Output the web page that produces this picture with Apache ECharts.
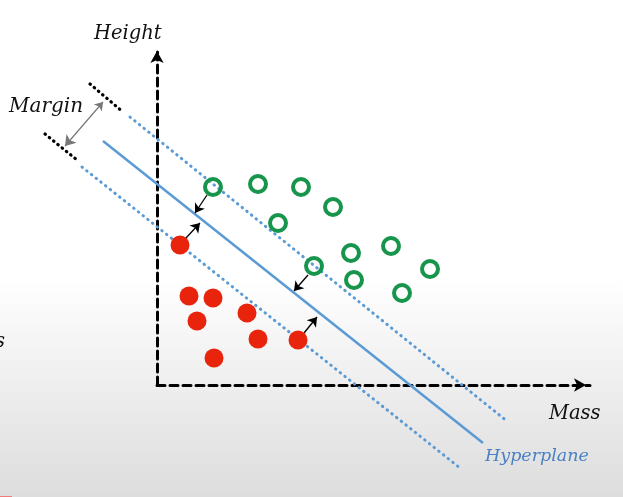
<!DOCTYPE html>
<html><head><meta charset="utf-8">
<script src="https://cdn.jsdelivr.net/npm/echarts@6/dist/echarts.min.js"></script>
<style>html,body{margin:0;padding:0;}#c{width:623px;height:497px;}</style>
</head><body><div id="c"></div>
<script>
// Data units: origin at the axes' corner, 1 unit ≈ 1 px
const greenPoints = [[56,198],[101,201],[144,198],[176,178],[121,162],[194,132],[234,139],[157,119],[197,105],[273,116],[245,92]];
const redPoints = [[23,140],[32,89],[56,87],[40,64],[90,72],[101,46],[141,45],[57,27]];
const hyperplane = [[-54,244],[326,-58]];
const marginUpper = [[-27,268],[351,-37]];
const marginLower = [[-75,218],[303,-83]];
const marginTicks = [[[-67,301],[-34,273]], [[-112,251],[-80,225]]];
const marginArrow = [[-54,283],[-92,239]];
const supportArrows = [[[50,190],[38,172]], [[28,146],[43,162]], [[151,110],[137,94]], [[147,52],[160,68]]];
const labels = {x:'Mass', y:'Height', margin:'Margin', plane:'Hyperplane', side:'s'};

const chart = echarts.init(document.getElementById('c'));
const serif = '"DejaVu Serif", serif';
const blue = '#5b9bd5';
function seg(name, list, style, symbol, symbolSize){
  return {type:'lines', coordinateSystem:'cartesian2d', clip:false, silent:true,
    symbol: symbol || 'none', symbolSize: symbolSize || 0, lineStyle: Object.assign({opacity:1, curveness:0}, style),
    data: list.map(c => ({coords:c})), z:3};
}
chart.setOption({
  backgroundColor: {type:'linear', x:0, y:0, x2:0, y2:1, colorStops:[
    {offset:0, color:'#ffffff'},{offset:0.56, color:'#ffffff'},{offset:0.8, color:'#ececec'},{offset:1, color:'#dddddd'}]},
  animation:false,
  grid:{left:157, top:47, width:433, height:338},
  xAxis:{type:'value', min:0, max:433, splitLine:{show:false}, axisTick:{show:false}, axisLabel:{show:false},
    axisLine:{show:true, symbol:['none','arrow'], symbolSize:[10,12], symbolOffset:[0,-4],
      lineStyle:{color:'#000', width:3, type:[8,5]}}},
  yAxis:{type:'value', min:0, max:338, splitLine:{show:false}, axisTick:{show:false}, axisLabel:{show:false},
    axisLine:{show:true, symbol:['none','arrow'], symbolSize:[10,12], symbolOffset:[0,-4],
      lineStyle:{color:'#000', width:3, type:[8,5]}}},
  graphic:[
    {type:'text', left:94, top:24, style:{text:labels.y, font:'italic 19.5px '+serif, fill:'#111'}},
    {type:'text', left:549, top:404, style:{text:labels.x, font:'italic 19.5px '+serif, fill:'#111'}},
    {type:'text', left:9, top:97, style:{text:labels.margin, font:'italic 20px '+serif, fill:'#111'}},
    {type:'text', left:485, top:447, style:{text:labels.plane, font:'italic 17.5px '+serif, fill:'#4a80c4'}},
    {type:'text', left:-5, top:332, style:{text:labels.side, font:'italic 19.5px '+serif, fill:'#111'}},
    {type:'rect', left:0, top:496, shape:{width:12, height:1}, style:{fill:'#ef7b7b'}}
  ],
  series:[
    seg('hyperplane', [hyperplane], {color:blue, width:2.5, type:'solid'}),
    seg('margins', [marginUpper, marginLower], {color:blue, width:3, type:[0.5,5.5], cap:'round'}),
    seg('ticks', marginTicks, {color:'#000', width:3.2, type:[0.5,5], cap:'round'}),
    seg('marginArrow', [marginArrow], {color:'#777', width:1.2}, ['arrow','arrow'], [8,10]),
    seg('support', supportArrows, {color:'#000', width:1.3}, ['none','arrow'], [7,9]),
    {type:'scatter', clip:false, data:redPoints, symbol:'circle', symbolSize:19,
      itemStyle:{color:'#e8250c', opacity:1}, z:4},
    {type:'scatter', clip:false, data:greenPoints, symbol:'circle', symbolSize:16,
      itemStyle:{color:'rgba(255,255,255,0)', borderColor:'#17954c', borderWidth:4, opacity:1}, z:4}
  ]
});
</script></body></html>
